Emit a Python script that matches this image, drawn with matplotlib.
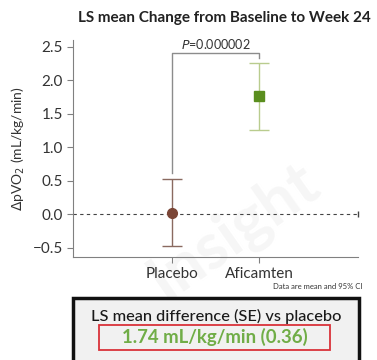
import matplotlib
matplotlib.use('Agg')
from matplotlib import pyplot as plt
from matplotlib.patches import Rectangle
import numpy as np

plt.rcParams['font.family'] = ['Lato', 'DejaVu Sans']

groups = ['Placebo', 'Aficamten']
means = [0.02, 1.76]
ci_low = [-0.48, 1.26]
ci_high = [0.52, 2.26]
yticks = [-0.5, 0.0, 0.5, 1.0, 1.5, 2.0, 2.5]
p_text = '=0.000002'
diff_text = '1.74 mL/kg/min (0.36)'

fig = plt.figure(figsize=(3.77, 3.60), dpi=100)

# faint watermark behind everything
fig.text(0.62, 0.36, 'Insight', fontsize=46, fontweight='bold',
         color='#f6f6f6', rotation=35, ha='center', va='center', zorder=-5)

ax = fig.add_axes([0.194, 0.286, 0.756, 0.603])
ax.patch.set_alpha(0)

x = np.arange(len(groups))
point_cols = ['#7a4536', '#5a8e1e']
bar_cols = ['#8a6a60', '#b9cc8e']
markers = ['o', 's']
for i in x:
    ax.errorbar(x[i], means[i],
                yerr=[[means[i] - ci_low[i]], [ci_high[i] - means[i]]],
                fmt=markers[i], color=point_cols[i], ecolor=bar_cols[i],
                ms=7, elinewidth=1.0, capsize=7, capthick=1.0, zorder=3)

ax.axhline(0, color='#444444', lw=0.8, ls=(0, (3, 3)), zorder=1)
ax.plot([2.14], [0], marker='|', color='#444444', ms=5, clip_on=False)

# significance bracket
ax.plot([x[0], x[0], x[1], x[1]], [0.62, 2.40, 2.40, 2.33],
        color='#8c8c8c', lw=1.0, zorder=2)
ax.text((x[0] + x[1]) / 2, 2.44, r'$\it{P}$' + p_text, ha='center',
        va='bottom', fontsize=9, color='#333333')

ax.set_xlim(-1.14, 2.14)
ax.set_ylim(-0.64, 2.60)
ax.set_xticks(x)
ax.set_xticklabels(groups, fontsize=11, color='#333333')
ax.set_yticks(yticks)
ax.set_yticklabels([f'{v:.1f}'.replace('-', '\u2212') for v in yticks],
                   fontsize=11, color='#333333')
ax.tick_params(axis='both', length=4, width=0.8, color='#808080')
for s in ['top', 'right']:
    ax.spines[s].set_visible(False)
for s in ['left', 'bottom']:
    ax.spines[s].set_color('#808080')
    ax.spines[s].set_linewidth(0.8)
ax.set_ylabel(r'$\Delta$pVO$_2$ (mL/kg/min)', fontsize=10, color='#333333',
              labelpad=4)

fig.text(0.595, 0.950, 'LS mean Change from Baseline to Week 24',
         ha='center', va='center', fontsize=11, fontweight='bold',
         color='#222222')

fig.text(0.962, 0.203, 'Data are mean and 95% CI', ha='right',
         va='center', fontsize=5.5, color='#333333')

box = Rectangle((0.194, -0.01), 0.758, 0.183, transform=fig.transFigure,
                facecolor='#f1f1f1', edgecolor='#111111', lw=2.5)
fig.add_artist(box)
red = Rectangle((0.263, 0.028), 0.612, 0.070, transform=fig.transFigure,
                facecolor='none', edgecolor='#d9323a', lw=1.3)
fig.add_artist(red)
fig.text(0.573, 0.122, 'LS mean difference (SE) vs placebo', ha='center',
         va='center', fontsize=11.8, fontweight='medium', color='#1a1a1a')
fig.text(0.569, 0.063, diff_text, ha='center', va='center', fontsize=13.4,
         fontweight='bold', color='#70ad47')

fig.savefig('out.png', dpi=100)
